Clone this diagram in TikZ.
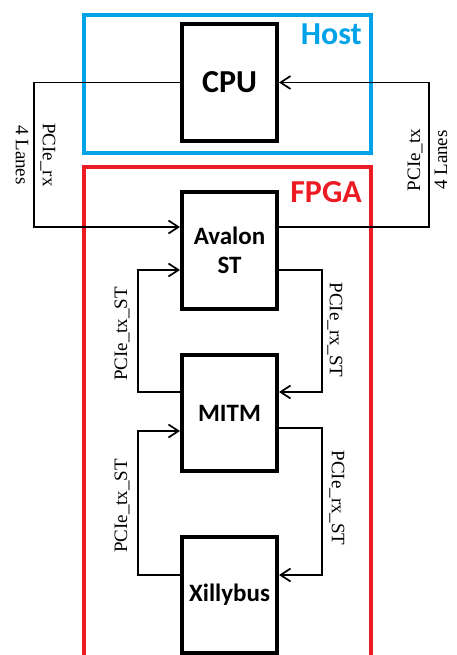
\documentclass[tikz,border=0pt]{standalone}
\usepackage{fontspec}
\setmainfont{Liberation Serif}
\newfontfamily\boxfont{Carlito}
\usetikzlibrary{arrows.meta}
\definecolor{hostblue}{RGB}{0,162,232}
\definecolor{fpgared}{RGB}{237,28,36}
\begin{document}
\begin{tikzpicture}[x=1pt,y=-1pt,
  blk/.style={draw, line width=4pt, minimum width=95pt, minimum height=116pt, inner sep=0pt,
    font=\boxfont\bfseries\fontsize{25}{29}\selectfont, align=center},
  bigblk/.style={blk, minimum height=117pt, font=\boxfont\bfseries\fontsize{32}{36}\selectfont},
  conn/.style={line width=1.7pt, -{Straight Barb[length=10pt,width=13pt,line width=1.7pt]}},
  lbl/.style={font=\fontsize{19}{27}\selectfont, align=center, inner sep=0pt},
  title/.style={font=\boxfont\bfseries\fontsize{32}{36}\selectfont, inner sep=0pt, anchor=base east}
]
\clip (0,0) rectangle (457,655);
% frames
\draw[hostblue, line width=4pt] (84,15) rectangle (370.5,153.5);
\draw[fpgared, line width=4pt] (84,167) rectangle (370.5,680);
\node[title, text=hostblue] (hostlbl) at (362,45) {Host};
\node[title, text=fpgared] (fpgalbl) at (362,202) {FPGA};
% blocks
\node[bigblk] (cpu) at (229.5,82.5) {CPU};
\node[blk, minimum height=117pt] (avalon) at (229.5,250) {Avalon\\ST};
\node[blk] (mitm) at (229.5,413) {MITM};
\node[blk] (xilly) at (229.5,595) {Xillybus};
% outer links
\draw[conn] (cpu.west) -- (34,82.5) -- (34,227) -- ([yshift=23pt]avalon.west);
\draw[conn] ([yshift=23pt]avalon.east) -- (429,227) -- (429,82.5) -- (cpu.east);
% avalon - mitm
\draw[conn] ([yshift=21pt]mitm.west) -- (138,392) -- (138,270) -- ([yshift=-20pt]avalon.west);
\draw[conn] ([yshift=-20pt]avalon.east) -- (322,270) -- (322,392) -- ([yshift=21pt]mitm.east);
% mitm - xillybus
\draw[conn] ([yshift=20pt]xilly.west) -- (138,575) -- (138,431) -- ([yshift=-18pt]mitm.west);
\draw[conn] ([yshift=-15pt]mitm.east) -- (322,428) -- (322,575) -- ([yshift=20pt]xilly.east);
% labels
\node[lbl, rotate=-90] (rxlanes) at (35.5,155) {PCIe\_rx\\4 Lanes};
\node[lbl, rotate=90] (txlanes) at (427.5,160) {PCIe\_tx\\4 Lanes};
\node[lbl, rotate=90] (tx1) at (122,334) {PCIe\_tx\_ST};
\node[lbl, rotate=-90] (rx1) at (335,330) {PCIe\_rx\_ST};
\node[lbl, rotate=90] (tx2) at (122,506) {PCIe\_tx\_ST};
\node[lbl, rotate=-90] (rx2) at (337,498) {PCIe\_rx\_ST};
\end{tikzpicture}
\end{document}
